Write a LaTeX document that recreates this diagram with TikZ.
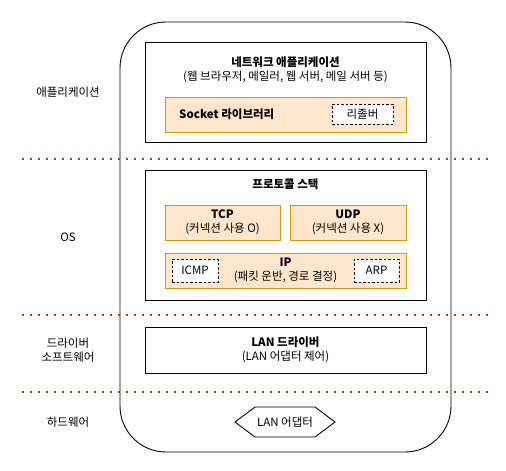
\documentclass[tikz,border=0pt]{standalone}
\usepackage{fontspec}
\setmainfont{Noto Sans CJK KR}
\usetikzlibrary{shapes.geometric}
\definecolor{ofill}{HTML}{FFE6CC}
\definecolor{ostroke}{HTML}{D79B00}
\definecolor{dotred}{HTML}{CC3300}
\tikzset{
  box/.style={draw=black, line width=0.9pt, fill=white},
  obox/.style={draw=ostroke, line width=0.9pt, fill=ofill},
  dbox/.style={draw=black, dashed, dash pattern=on 2.5pt off 2pt, line width=0.9pt, fill=white},
  lbl/.style={font=\fontsize{11.5}{14.5}\selectfont, align=center, inner sep=0pt},
  sep/.style={draw=dotred, line width=2pt, dash pattern=on 2pt off 6pt},
}
\begin{document}
\begin{tikzpicture}[x=1pt,y=-1pt]
\useasboundingbox (0,0) rectangle (506,471);
% outer
\draw[line width=0.9pt, rounded corners=46pt] (120,22) rectangle (451,452);
% app box
\node[box, minimum width=281pt, minimum height=100pt] (appbox) at (285.5,92) {};
\node[lbl] (apptxt) at (285.5,70) {\textbf{네트워크 애플리케이션}\\(웹 브라우저, 메일러, 웹 서버, 메일 서버 등)};
\node[obox, minimum width=241pt, minimum height=35pt] (sock) at (285.5,114.5) {};
\node[lbl, anchor=west] (socktxt) at (179,114.5) {\textbf{Socket 라이브러리}};
\node[dbox, minimum width=61pt, minimum height=20pt] (resolver) at (362.5,114) {};
\node[lbl] at (resolver) {리졸버};
% protocol stack
\node[box, minimum width=281pt, minimum height=130pt] (stack) at (285.5,235) {};
\node[lbl] (stacktxt) at (285.5,184) {\textbf{프로토콜 스택}};
\node[obox, minimum width=115pt, minimum height=35pt] (tcp) at (222.5,222.5) {};
\node[lbl] at (tcp) {\textbf{TCP}\\(커넥션 사용 O)};
\node[obox, minimum width=116pt, minimum height=35pt] (udp) at (348,222.5) {};
\node[lbl] at (udp) {\textbf{UDP}\\(커넥션 사용 X)};
\node[obox, minimum width=241pt, minimum height=35pt] (ip) at (285.5,270.5) {};
\node[lbl] at (ip) {\textbf{IP}\\(패킷 운반, 경로 결정)};
\node[dbox, minimum width=46pt, minimum height=23pt] (icmp) at (195,270.5) {};
\node[lbl] at (icmp) {ICMP};
\node[dbox, minimum width=45pt, minimum height=23pt] (arp) at (376.5,270.5) {};
\node[lbl] at (arp) {ARP};
% LAN driver
\node[box, minimum width=281pt, minimum height=46pt] (drv) at (285.5,350) {};
\node[lbl] at (drv) {\textbf{LAN 드라이버}\\(LAN 어댑터 제어)};
% hexagon
\draw[line width=0.9pt, fill=white] (235,422) -- (255,407) -- (315,407) -- (335,422) -- (315,437) -- (255,437) -- cycle;
\node[lbl] (lan) at (285,422) {LAN 어댑터};
% separators
\coordinate (s1a) at (22,159); \coordinate (s1b) at (488,159);
\coordinate (s2a) at (22,315); \coordinate (s2b) at (488,315);
\coordinate (s3a) at (22,392); \coordinate (s3b) at (488,392);
\draw[sep] (s1a) -- (s1b);
\draw[sep] (s2a) -- (s2b);
\draw[sep] (s3a) -- (s3b);
% left labels
\node[lbl] (l1) at (68,92) {애플리케이션};
\node[lbl] (l2) at (68,237) {OS};
\node[lbl] (l3) at (68,350) {드라이버\\소프트웨어};
\node[lbl] (l4) at (68,422) {하드웨어};
\end{tikzpicture}
\end{document}
